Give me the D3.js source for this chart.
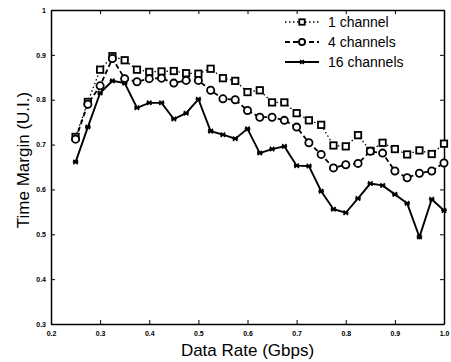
<!DOCTYPE html>
<html><head><meta charset="utf-8">
<script src="https://cdn.jsdelivr.net/npm/d3@7/dist/d3.min.js"></script>
<style>body{margin:0;background:#fff}svg{display:block}</style>
</head><body>
<script>
const rates = [0.25,0.275,0.3,0.325,0.35,0.375,0.4,0.425,0.45,0.475,0.5,0.525,0.55,0.575,0.6,0.625,0.65,0.675,0.7,0.725,0.75,0.775,0.8,0.825,0.85,0.875,0.9,0.925,0.95,0.975,1.0];
const ch1 = [0.717,0.795,0.867,0.897,0.888,0.867,0.862,0.863,0.864,0.859,0.858,0.869,0.848,0.842,0.817,0.821,0.794,0.794,0.770,0.754,0.744,0.698,0.696,0.721,0.686,0.704,0.690,0.678,0.687,0.679,0.702];
const ch4 = [0.712,0.790,0.831,0.892,0.847,0.840,0.847,0.848,0.837,0.843,0.843,0.821,0.802,0.800,0.776,0.761,0.761,0.754,0.739,0.704,0.678,0.648,0.655,0.658,0.685,0.681,0.641,0.626,0.636,0.641,0.659];
const ch16 = [0.661,0.739,0.815,0.842,0.837,0.782,0.793,0.793,0.757,0.770,0.801,0.730,0.722,0.713,0.735,0.681,0.690,0.696,0.653,0.652,0.596,0.556,0.548,0.580,0.613,0.609,0.589,0.569,0.494,0.578,0.553];
const xTicks = [0.2,0.3,0.4,0.5,0.6,0.7,0.8,0.9,1.0];
const xTickLabels = ["0.2","0.3","0.4","0.5","0.6","0.7","0.8","0.9","1.0"];
const yTicks = [0.3,0.4,0.5,0.6,0.7,0.8,0.9,1.0];
const yTickLabels = ["0.3","0.4","0.5","0.6","0.7","0.8","0.9","1"];
const seriesNames = ["1 channel","4 channels","16 channels"];

const W=451,H=362, m={l:51,t:10,r:7,b:38};
const svg=d3.select("body").append("svg").attr("width",W).attr("height",H);
const x=d3.scaleLinear().domain([0.2,1.0]).range([m.l,W-m.r]);
const y=d3.scaleLinear().domain([0.3,1.0]).range([H-m.b,m.t]);
const font="'Liberation Sans', Arial, sans-serif";

const tl=4;
const fmtX=(d,i)=>xTickLabels[i], fmtY=(d,i)=>yTickLabels[i];
svg.append("g").attr("transform",`translate(0,${H-m.b})`)
  .call(d3.axisBottom(x).tickValues(xTicks).tickFormat(fmtX).tickSizeInner(-tl).tickSizeOuter(0).tickPadding(7));
svg.append("g").attr("transform",`translate(0,${m.t})`)
  .call(d3.axisTop(x).tickValues(xTicks).tickFormat("").tickSizeInner(-tl).tickSizeOuter(0));
svg.append("g").attr("transform",`translate(${m.l},0)`)
  .call(d3.axisLeft(y).tickValues(yTicks).tickFormat(fmtY).tickSizeInner(-tl).tickSizeOuter(0).tickPadding(5));
svg.append("g").attr("transform",`translate(${W-m.r},0)`)
  .call(d3.axisRight(y).tickValues(yTicks).tickFormat("").tickSizeInner(-tl).tickSizeOuter(0));
svg.selectAll(".domain").attr("stroke","#000").attr("stroke-width",1.5);
svg.selectAll(".tick line").attr("stroke","#000").attr("stroke-width",1);
svg.selectAll(".tick text").attr("font-family",font).attr("font-size",7).attr("font-weight","bold").attr("fill","#000");

const line=d3.line().x((d,i)=>x(rates[i])).y(d=>y(d));
const data=[ch1,ch4,ch16];
const dash=["1.5,2.5","5,3",null];
const widths=[1.3,1.8,1.9];
data.forEach((s,k)=>{
  const p=svg.append("path").datum(s).attr("d",line).attr("fill","none")
    .attr("stroke","#000").attr("stroke-width",widths[k]);
  if(dash[k]) p.attr("stroke-dasharray",dash[k]);
});
function marker(g,k,cx,cy,sc){
  sc=sc||1;
  if(k===0){
    const h=3.2*sc;
    g.append("rect").attr("x",cx-h).attr("y",cy-h).attr("width",2*h).attr("height",2*h)
     .attr("fill","#fff").attr("stroke","#000").attr("stroke-width",1.8);
  } else if(k===1){
    g.append("circle").attr("cx",cx).attr("cy",cy).attr("r",3.6*sc)
     .attr("fill","#fff").attr("stroke","#000").attr("stroke-width",1.8);
  } else {
    const r=2.2*sc;
    g.append("path").attr("d",`M${cx-r},${cy-r}L${cx+r},${cy+r}M${cx-r},${cy+r}L${cx+r},${cy-r}M${cx-r-0.6},${cy}L${cx+r+0.6},${cy}`)
     .attr("stroke","#000").attr("stroke-width",1.6);
  }
}
data.forEach((s,k)=>{
  const g=svg.append("g");
  s.forEach((v,i)=>marker(g,k,x(rates[i]),y(v)));
});

const lg=svg.append("g");
const rowsY=[22,42,62];
seriesNames.forEach((n,k)=>{
  const yy=rowsY[k];
  const l=lg.append("line").attr("x1",285).attr("x2",319).attr("y1",yy).attr("y2",yy)
    .attr("stroke","#000").attr("stroke-width",widths[k]);
  if(dash[k]) l.attr("stroke-dasharray",dash[k]);
  marker(lg,k,302,yy,0.85);
  lg.append("text").attr("x",328).attr("y",yy+5).text(n)
    .attr("font-family",font).attr("font-size",14).attr("fill","#000");
});

svg.append("text").attr("x",(m.l+W-m.r)/2).attr("y",H-6).attr("text-anchor","middle")
  .attr("font-family",font).attr("font-size",17).text("Data Rate (Gbps)");
svg.append("text").attr("transform",`translate(29,160) rotate(-90)`).attr("text-anchor","middle")
  .attr("font-family",font).attr("font-size",17).text("Time Margin (U.I.)");
</script>
</body></html>
